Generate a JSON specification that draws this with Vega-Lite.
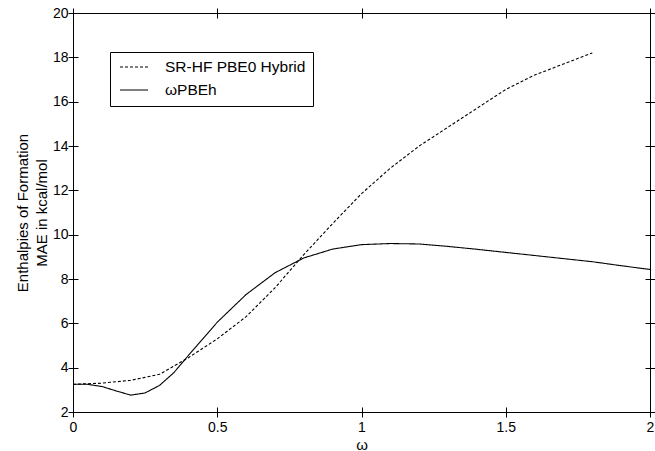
{
  "$schema": "https://vega.github.io/schema/vega-lite/v6.json",
  "width": 577,
  "height": 399,
  "autosize": {"type": "none"},
  "padding": {"left": 73, "top": 13, "right": 5, "bottom": 39},
  "background": "white",
  "config": {
    "font": "Liberation Sans",
    "view": {"stroke": "black", "strokeWidth": 1},
    "axis": {"grid": false, "domain": false, "ticks": true, "tickColor": "black", "tickWidth": 1, "tickSize": 10, "tickOpacity": 1, "offset": -5, "labelColor": "black", "titleColor": "black", "labelFont": "Liberation Sans", "titleFont": "Liberation Sans", "labelFontSize": 14, "titleFontSize": 15, "titleFontWeight": "normal"}
  },
  "data": {
    "values": [
      {"omega": 0, "mae": 3.25, "series": "ωPBEh"},
      {"omega": 0.05, "mae": 3.25, "series": "ωPBEh"},
      {"omega": 0.1, "mae": 3.15, "series": "ωPBEh"},
      {"omega": 0.15, "mae": 2.95, "series": "ωPBEh"},
      {"omega": 0.2, "mae": 2.76, "series": "ωPBEh"},
      {"omega": 0.25, "mae": 2.86, "series": "ωPBEh"},
      {"omega": 0.3, "mae": 3.2, "series": "ωPBEh"},
      {"omega": 0.35, "mae": 3.78, "series": "ωPBEh"},
      {"omega": 0.4, "mae": 4.55, "series": "ωPBEh"},
      {"omega": 0.45, "mae": 5.3, "series": "ωPBEh"},
      {"omega": 0.5, "mae": 6.05, "series": "ωPBEh"},
      {"omega": 0.6, "mae": 7.3, "series": "ωPBEh"},
      {"omega": 0.7, "mae": 8.28, "series": "ωPBEh"},
      {"omega": 0.8, "mae": 8.95, "series": "ωPBEh"},
      {"omega": 0.9, "mae": 9.35, "series": "ωPBEh"},
      {"omega": 1.0, "mae": 9.55, "series": "ωPBEh"},
      {"omega": 1.1, "mae": 9.6, "series": "ωPBEh"},
      {"omega": 1.2, "mae": 9.58, "series": "ωPBEh"},
      {"omega": 1.3, "mae": 9.47, "series": "ωPBEh"},
      {"omega": 1.4, "mae": 9.34, "series": "ωPBEh"},
      {"omega": 1.5, "mae": 9.2, "series": "ωPBEh"},
      {"omega": 1.6, "mae": 9.06, "series": "ωPBEh"},
      {"omega": 1.7, "mae": 8.92, "series": "ωPBEh"},
      {"omega": 1.8, "mae": 8.78, "series": "ωPBEh"},
      {"omega": 1.9, "mae": 8.6, "series": "ωPBEh"},
      {"omega": 2.0, "mae": 8.43, "series": "ωPBEh"},
      {"omega": 0, "mae": 3.25, "series": "SR-HF PBE0 Hybrid"},
      {"omega": 0.1, "mae": 3.3, "series": "SR-HF PBE0 Hybrid"},
      {"omega": 0.2, "mae": 3.43, "series": "SR-HF PBE0 Hybrid"},
      {"omega": 0.3, "mae": 3.7, "series": "SR-HF PBE0 Hybrid"},
      {"omega": 0.4, "mae": 4.45, "series": "SR-HF PBE0 Hybrid"},
      {"omega": 0.5, "mae": 5.3, "series": "SR-HF PBE0 Hybrid"},
      {"omega": 0.6, "mae": 6.3, "series": "SR-HF PBE0 Hybrid"},
      {"omega": 0.7, "mae": 7.6, "series": "SR-HF PBE0 Hybrid"},
      {"omega": 0.8, "mae": 9.1, "series": "SR-HF PBE0 Hybrid"},
      {"omega": 0.9, "mae": 10.5, "series": "SR-HF PBE0 Hybrid"},
      {"omega": 1.0, "mae": 11.85, "series": "SR-HF PBE0 Hybrid"},
      {"omega": 1.1, "mae": 13.0, "series": "SR-HF PBE0 Hybrid"},
      {"omega": 1.2, "mae": 14.0, "series": "SR-HF PBE0 Hybrid"},
      {"omega": 1.3, "mae": 14.85, "series": "SR-HF PBE0 Hybrid"},
      {"omega": 1.4, "mae": 15.7, "series": "SR-HF PBE0 Hybrid"},
      {"omega": 1.5, "mae": 16.55, "series": "SR-HF PBE0 Hybrid"},
      {"omega": 1.6, "mae": 17.2, "series": "SR-HF PBE0 Hybrid"},
      {"omega": 1.7, "mae": 17.7, "series": "SR-HF PBE0 Hybrid"},
      {"omega": 1.8, "mae": 18.2, "series": "SR-HF PBE0 Hybrid"}
    ]
  },
  "resolve": {"axis": {"x": "independent", "y": "independent"}},
  "layer": [
    {
      "mark": {"type": "line", "color": "black", "strokeWidth": 1.1},
      "encoding": {
        "x": {"field": "omega", "type": "quantitative", "scale": {"domain": [0, 2], "nice": false},
              "axis": {"orient": "bottom", "values": [0, 0.5, 1, 1.5, 2], "format": "~g", "labelPadding": 3, "title": "ω", "titlePadding": 3, "labelFlush": false}},
        "y": {"field": "mae", "type": "quantitative", "scale": {"domain": [2, 20], "nice": false},
              "axis": {"orient": "left", "values": [2, 4, 6, 8, 10, 12, 14, 16, 18, 20], "labelPadding": 0, "title": ["Enthalpies of Formation", "MAE in kcal/mol"], "titlePadding": 3, "titleLineHeight": 19, "labelFlush": false}},
        "strokeDash": {"field": "series", "type": "nominal",
              "scale": {"domain": ["SR-HF PBE0 Hybrid", "ωPBEh"], "range": [[3, 2], [1, 0]]},
              "legend": {"orient": "none", "legendX": 37, "legendY": 39, "title": null, "strokeColor": "black", "fillColor": "white", "padding": 7, "symbolType": "M-2,0H2", "symbolSize": 196, "symbolStrokeColor": "black", "symbolStrokeWidth": 1.1, "symbolOffset": 9, "labelOffset": 23, "labelFontSize": 15.5, "labelFont": "Liberation Sans", "labelColor": "black", "rowPadding": 6, "labelLimit": 300}}
      }
    },
    {
      "mark": {"type": "line", "strokeOpacity": 0},
      "encoding": {
        "x": {"field": "omega", "type": "quantitative", "axis": {"orient": "top", "values": [0, 0.5, 1, 1.5, 2], "labels": false, "title": null}},
        "y": {"field": "mae", "type": "quantitative", "axis": {"orient": "right", "values": [2, 4, 6, 8, 10, 12, 14, 16, 18, 20], "labels": false, "title": null}},
        "detail": {"field": "series"}
      }
    }
  ]
}
